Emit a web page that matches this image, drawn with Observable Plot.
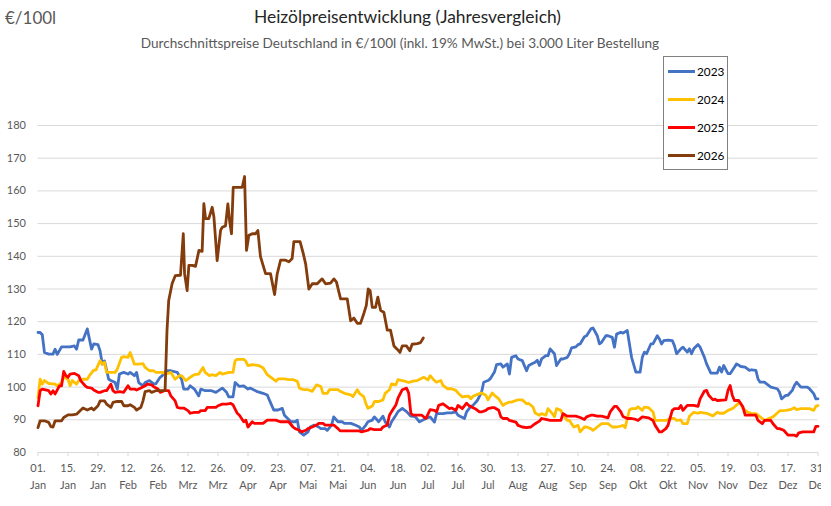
<!DOCTYPE html>
<html><head><meta charset="utf-8">
<script src="https://cdn.jsdelivr.net/npm/d3@7"></script>
<script src="https://cdn.jsdelivr.net/npm/@observablehq/plot@0.6"></script>
<style>
body{margin:0;background:#fff;}
#wrap{position:relative;width:831px;height:506px;font-family:Lato,"Open Sans",sans-serif;overflow:hidden;background:#fff}
#unit{position:absolute;left:5px;top:7px;font-size:17px;color:#595959;white-space:nowrap;font-weight:400}
#title{position:absolute;left:407.5px;top:6px;transform:translateX(-50%);font-size:17.4px;color:#262626;white-space:nowrap;font-weight:400}
#subtitle{position:absolute;left:400px;top:35px;transform:translateX(-50%);font-size:13.6px;color:#595959;white-space:nowrap;font-weight:400}
#chart{position:absolute;left:0;top:0;width:831px;height:506px;clip-path:inset(0 10px 0 0)}
#chart svg{max-width:none !important;width:831px;height:506px}
#legend{position:absolute;left:663px;top:56px;width:65px;height:114px;border:1px solid #808080;background:#fff;box-sizing:border-box;padding-top:0}
.item{display:flex;align-items:center;height:28.2px;font-size:11.8px;color:#000}
.sw{width:27px;height:3px;margin-left:4px;margin-right:2px}
</style></head>
<body>
<div id="wrap">
  <div id="chart"></div>
  <div id="unit"></div>
  <div id="title"></div>
  <div id="subtitle"></div>
  <div id="legend"></div>
</div>
<script>
const unitLabel = "€/100l";
const titleText = "Heizölpreisentwicklung (Jahresvergleich)";
const subtitleText = "Durchschnittspreise Deutschland in €/100l (inkl. 19% MwSt.) bei 3.000 Liter Bestellung";

const years = ["2023", "2024", "2025", "2026"];
const colors = ["#4472C4", "#FFC000", "#FF0000", "#843C0C"];

const yTicks = [80, 90, 100, 110, 120, 130, 140, 150, 160, 170, 180];
const xTickDays = [0,14,28,42,56,70,84,98,112,126,140,154,168,182,196,210,224,238,252,266,280,294,308,322,336,350,364];
const xTickLabels = ["01.\nJan","15.\nJan","29.\nJan","12.\nFeb","26.\nFeb","12.\nMrz","26.\nMrz","09.\nApr","23.\nApr","07.\nMai","21.\nMai","04.\nJun","18.\nJun","02.\nJul","16.\nJul","30.\nJul","13.\nAug","27.\nAug","10.\nSep","24.\nSep","08.\nOkt","22.\nOkt","05.\nNov","19.\nNov","03.\nDez","17.\nDez","31.\nDez"];

// [day of year (0 = 01. Jan), price €/100l]
const s2023 = [[0,116.7],[1,116.7],[2,116.0],[3,110.6],[5,110.1],[7,110.1],[8,111.6],[9,110.0],[11,112.3],[15,112.3],[17,112.6],[18,111.6],[19,114.4],[21,114.4],[23,117.8],[25,111.6],[26,113.2],[28,113.0],[29,111.0],[30,107.0],[31,108.0],[33,102.4],[34,102.0],[36,101.4],[37,99.4],[38,104.0],[40,104.5],[42,104.0],[43,104.5],[45,103.5],[46,104.5],[47,101.4],[49,100.4],[50,101.4],[52,102.0],[54,101.0],[55,101.0],[57,103.0],[58,103.5],[60,105.0],[62,105.0],[65,104.5],[67,102.4],[68,99.4],[70,99.4],[71,100.4],[73,99.4],[75,97.3],[76,99.4],[78,98.9],[81,98.9],[83,98.4],[86,99.7],[88,98.4],[89,97.0],[91,97.0],[92,101.4],[94,100.2],[96,100.4],[98,99.4],[99,99.7],[102,98.7],[105,98.1],[107,97.6],[108,96.0],[110,93.0],[112,93.0],[114,93.5],[115,91.4],[118,89.4],[120,89.4],[121,89.9],[122,86.3],[124,85.3],[126,86.3],[127,87.8],[129,88.4],[131,87.8],[132,87.3],[134,87.3],[135,86.8],[137,88.4],[138,90.9],[140,89.4],[142,89.4],[143,88.9],[146,88.9],[148,88.4],[150,87.8],[151,86.8],[153,88.4],[154,89.4],[156,89.9],[157,90.9],[159,89.4],[161,91.1],[162,89.4],[164,87.8],[165,89.4],[167,91.4],[168,92.5],[170,93.5],[172,92.5],[174,91.1],[176,91.0],[178,89.4],[181,90.4],[183,90.9],[185,89.3],[186,91.9],[189,91.9],[191,92.1],[193,92.1],[195,92.4],[196,91.4],[199,90.4],[200,92.4],[202,94.1],[203,94.4],[205,95.9],[207,98.5],[208,101.5],[210,102.0],[211,102.5],[213,104.6],[214,106.9],[216,107.1],[217,106.1],[219,107.1],[220,104.0],[221,109.1],[223,109.6],[224,108.6],[226,108.1],[228,105.0],[229,106.6],[231,107.3],[232,107.6],[233,108.2],[234,106.6],[235,108.6],[237,109.6],[238,109.6],[239,111.7],[241,110.2],[242,106.6],[244,108.6],[245,108.6],[247,109.1],[248,110.2],[249,112.0],[251,112.3],[252,113.0],[253,113.2],[255,115.4],[256,115.7],[258,117.8],[259,118.1],[261,115.7],[262,113.2],[263,113.7],[265,115.7],[266,115.7],[268,115.2],[269,112.2],[270,116.2],[272,116.8],[273,116.5],[275,117.3],[276,113.2],[277,109.1],[279,104.6],[281,104.6],[282,109.1],[283,110.7],[284,110.2],[286,113.2],[287,113.2],[289,115.7],[290,114.7],[291,113.2],[292,114.2],[294,114.4],[296,114.2],[297,112.7],[298,110.2],[300,111.7],[301,112.2],[303,110.7],[304,111.7],[305,110.2],[306,111.7],[308,113.0],[309,112.2],[311,109.1],[312,107.1],[314,104.3],[317,104.3],[318,106.1],[319,104.6],[320,106.6],[322,104.1],[323,104.1],[325,106.1],[326,107.1],[328,106.3],[330,106.1],[332,105.1],[333,105.3],[335,105.1],[336,102.5],[337,101.5],[339,101.5],[340,101.0],[342,100.0],[345,99.5],[346,98.5],[347,96.4],[349,97.5],[350,97.5],[352,99.0],[353,100.5],[354,101.5],[356,100.0],[359,100.0],[360,99.5],[362,98.0],[363,96.4],[364,96.4]];

const s2024 = [[0,96.8],[1,102.4],[2,100.9],[3,102.0],[5,101.1],[8,100.9],[9,100.4],[11,101.4],[12,103.0],[14,102.4],[15,100.4],[16,102.0],[18,100.9],[19,102.0],[21,102.4],[23,102.4],[24,103.5],[26,105.2],[27,105.2],[29,108.1],[30,107.0],[31,107.6],[32,104.5],[34,104.5],[36,104.5],[37,105.5],[39,109.1],[40,109.3],[42,109.1],[43,110.6],[45,107.0],[47,107.0],[49,107.2],[50,106.0],[52,105.0],[54,105.0],[55,104.5],[58,104.5],[60,104.0],[62,104.5],[64,102.4],[66,103.5],[67,103.5],[69,102.0],[71,103.0],[73,103.8],[75,104.0],[77,106.0],[78,104.5],[80,103.5],[81,103.8],[83,103.5],[85,104.5],[86,104.0],[89,104.5],[91,104.5],[92,108.1],[93,108.5],[96,108.5],[97,107.9],[98,106.6],[100,106.9],[103,106.6],[105,105.9],[107,103.8],[109,102.8],[111,101.8],[112,102.5],[115,102.5],[117,102.3],[119,102.3],[121,101.8],[122,99.7],[124,99.2],[126,99.2],[128,98.7],[129,99.7],[130,100.7],[132,100.2],[133,98.1],[135,98.1],[136,99.2],[140,99.2],[141,98.7],[143,98.1],[146,97.6],[147,97.1],[149,99.2],[150,98.1],[152,97.1],[153,95.0],[154,93.5],[156,94.2],[157,95.6],[159,95.6],[161,96.1],[162,98.1],[164,99.2],[165,101.0],[167,100.7],[168,102.3],[171,101.8],[173,101.4],[175,101.8],[177,102.0],[180,103.0],[182,102.2],[183,103.5],[185,102.0],[186,101.5],[188,102.0],[189,100.5],[191,99.5],[193,99.5],[195,99.0],[196,98.2],[198,97.0],[200,97.2],[201,97.2],[202,96.4],[203,97.2],[206,98.0],[207,98.2],[209,97.5],[210,96.1],[212,98.2],[213,97.5],[215,96.4],[217,94.4],[218,94.9],[220,95.4],[221,95.4],[223,95.9],[224,96.1],[226,96.1],[228,94.9],[229,95.0],[231,93.9],[232,92.1],[234,91.4],[235,91.9],[237,91.4],[238,93.4],[240,91.9],[241,90.9],[242,93.4],[244,92.9],[245,91.4],[247,89.8],[248,89.8],[250,87.8],[252,88.3],[253,86.3],[255,87.8],[256,87.8],[258,87.3],[259,86.8],[261,87.8],[263,88.8],[266,88.8],[268,87.8],[270,87.8],[272,88.1],[273,88.3],[274,87.6],[276,93.0],[277,93.4],[279,93.4],[280,94.0],[282,92.9],[283,93.9],[285,93.7],[287,92.4],[288,89.8],[290,89.8],[293,89.8],[295,90.4],[297,90.4],[298,89.8],[300,90.0],[301,88.8],[303,88.8],[304,91.1],[306,92.3],[308,92.0],[309,92.3],[312,92.0],[315,91.2],[317,92.3],[318,92.0],[320,92.0],[322,92.9],[324,93.4],[325,93.9],[327,95.1],[328,94.9],[329,93.4],[331,92.4],[333,91.9],[335,91.9],[336,91.4],[338,90.4],[339,89.8],[341,90.4],[343,90.9],[345,92.1],[346,92.7],[349,92.9],[351,93.1],[353,93.7],[354,93.1],[356,93.4],[358,93.4],[360,93.4],[362,92.9],[363,94.1],[364,94.4]];

const s2025 = [[0,94.3],[1,98.9],[2,99.4],[5,98.9],[6,97.9],[7,98.9],[8,97.9],[10,100.4],[11,100.4],[12,104.8],[13,103.5],[14,103.0],[15,104.0],[17,104.2],[19,103.5],[20,101.9],[22,100.4],[23,99.9],[25,99.7],[26,99.1],[28,98.4],[29,98.4],[31,98.9],[32,98.9],[34,100.9],[35,98.9],[36,98.4],[38,98.6],[40,98.4],[41,99.4],[42,100.4],[43,99.4],[45,99.4],[46,99.1],[48,99.7],[50,100.4],[51,100.9],[53,100.7],[54,100.1],[56,99.4],[57,98.4],[59,98.9],[61,98.9],[62,97.3],[64,95.8],[65,93.8],[66,93.6],[68,93.6],[70,92.8],[71,92.0],[73,92.3],[75,92.3],[76,92.8],[78,92.8],[79,93.8],[81,93.8],[83,93.8],[84,94.3],[86,94.8],[88,94.8],[90,95.0],[91,94.6],[93,92.0],[94,91.4],[96,89.4],[97,89.9],[98,87.8],[100,89.4],[101,88.9],[105,88.9],[107,89.9],[111,89.9],[113,89.4],[117,89.4],[119,87.8],[120,87.3],[122,86.8],[123,86.3],[125,86.8],[126,87.3],[128,87.8],[130,88.4],[131,88.9],[133,88.9],[134,88.4],[138,88.4],[140,87.3],[141,86.6],[150,86.6],[151,86.3],[154,86.8],[155,87.3],[157,87.0],[160,87.0],[161,87.8],[163,88.4],[164,91.4],[165,92.5],[167,94.5],[168,96.6],[170,99.2],[172,99.7],[173,98.1],[174,92.0],[175,91.4],[179,91.4],[181,90.4],[183,93.1],[185,92.9],[186,92.4],[187,94.4],[189,94.9],[190,94.4],[192,93.4],[193,93.6],[195,92.9],[196,94.4],[198,93.4],[200,95.1],[201,94.4],[203,93.7],[204,93.4],[206,92.4],[207,92.4],[209,92.9],[210,93.4],[212,93.7],[213,93.7],[215,92.9],[216,90.9],[217,90.4],[219,90.4],[220,89.8],[223,89.3],[224,88.3],[226,87.8],[228,87.6],[230,87.8],[232,88.8],[234,89.6],[235,90.4],[237,90.1],[239,89.8],[244,89.8],[245,91.9],[247,91.1],[251,91.1],[253,90.7],[255,90.1],[256,90.9],[258,91.4],[259,91.4],[261,91.1],[263,91.1],[266,90.6],[267,92.4],[269,94.1],[270,94.1],[272,92.4],[273,91.0],[275,90.4],[277,90.4],[279,90.1],[280,89.8],[282,90.9],[285,90.6],[287,89.8],[288,88.3],[290,86.3],[291,86.3],[293,87.3],[294,88.3],[296,92.9],[297,93.4],[299,93.4],[300,94.4],[301,92.9],[303,94.4],[306,94.4],[308,94.1],[309,96.4],[311,98.8],[312,99.0],[313,97.5],[315,96.1],[316,96.3],[317,95.9],[321,96.1],[322,99.0],[323,100.5],[324,97.5],[325,95.9],[327,95.9],[329,93.9],[330,91.4],[335,91.4],[336,89.8],[338,88.8],[339,89.8],[342,89.8],[343,88.8],[345,87.3],[346,87.3],[348,86.8],[350,85.3],[353,85.3],[354,85.0],[355,86.0],[357,86.3],[362,86.3],[363,88.0],[364,88.0]];

const s2026 = [[0,87.6],[1,89.7],[3,89.7],[5,89.2],[6,87.9],[7,87.8],[8,89.7],[11,89.7],[12,90.7],[14,91.5],[16,91.5],[18,91.7],[20,93.0],[21,93.6],[23,93.0],[25,93.6],[26,93.0],[28,94.3],[29,95.8],[31,95.8],[32,94.8],[34,93.8],[35,95.3],[37,95.6],[39,95.6],[40,94.3],[42,94.3],[43,94.6],[45,93.8],[46,93.0],[48,93.8],[49,95.8],[50,98.6],[52,98.9],[53,98.4],[55,98.9],[59.3,98.9],[60.2,117.3],[61,126.5],[62.6,131.7],[64.1,134.1],[66.5,134.2],[67.8,146.9],[68.4,134.7],[69.6,129.5],[70.4,137.2],[72,137.2],[73.5,136.9],[75.1,141.8],[76.6,141.5],[77.4,156.1],[78.2,151.5],[79.7,151.5],[81.3,155.0],[82.1,152.0],[83.6,138.7],[85.2,147.9],[86,148.9],[87.5,149.3],[88.6,156.0],[89.4,150.9],[90.3,146.9],[91.1,161.1],[95.3,161.1],[96.4,164.4],[97.3,141.8],[98.4,146.4],[100,146.9],[101.5,146.9],[102.6,147.9],[103.8,140.0],[104.9,137.5],[106.2,134.7],[108.5,134.7],[110.4,128.3],[111.6,134.5],[113.2,138.8],[115.5,138.8],[117.1,138.3],[118.6,139.3],[119.4,144.5],[122.3,144.5],[123.8,140.8],[124.9,137.7],[126.4,130.0],[128,131.6],[130.3,131.6],[132.6,133.1],[134.2,131.6],[136.5,131.8],[138.1,133.1],[139.3,132.1],[141.2,127.0],[144.3,127.0],[145.9,120.3],[147.4,121.1],[149,119.5],[150.5,119.5],[152.1,122.6],[153.2,124.9],[154.1,130.0],[155,129.5],[156,124.4],[157.5,124.4],[158.6,127.5],[159.9,123.4],[161.4,122.9],[163,117.4],[164.5,117.4],[166.1,112.6],[167.6,111.6],[168.9,110.6],[170,112.6],[172,112.6],[173.5,111.1],[174.6,113.1],[177,113.3],[178.5,113.6],[179.8,115.0]];

const seriesList = [s2023, s2024, s2025, s2026];

document.getElementById("unit").textContent = unitLabel;
document.getElementById("title").textContent = titleText;
document.getElementById("subtitle").textContent = subtitleText;

const leg = document.getElementById("legend");
years.forEach((y, i) => {
  const it = document.createElement("div"); it.className = "item";
  const sw = document.createElement("span"); sw.className = "sw"; sw.style.background = colors[i];
  const tx = document.createElement("span"); tx.textContent = y;
  it.appendChild(sw); it.appendChild(tx); leg.appendChild(it);
});

const lineMarks = seriesList.map((s, i) =>
  Plot.line(s.map(([d, v]) => ({day: d, value: v})), {
    x: "day", y: "value", stroke: colors[i], strokeWidth: 2.8,
    strokeLinejoin: "round", strokeLinecap: "round"
  })
);

const chart = Plot.plot({
  width: 831, height: 506,
  marginLeft: 37.5, marginRight: 13.5, marginTop: 125, marginBottom: 54,
  style: {fontFamily: "Lato, 'Open Sans', sans-serif", fontSize: "11px", color: "#595959", background: "transparent", overflow: "visible", maxWidth: "none"},
  x: {domain: [0, 364]},
  y: {domain: [80, 180]},
  marks: [
    Plot.gridY(yTicks.filter(v => v > 80), {stroke: "#d9d9d9", strokeOpacity: 1, strokeWidth: 1}),
    Plot.ruleY([80], {stroke: "#d9d9d9", strokeWidth: 1}),
    Plot.axisY({ticks: yTicks, tickSize: 0, tickPadding: 12, label: null, fill: "#595959", fontSize: 11}),
    Plot.axisX({ticks: xTickDays, tickFormat: (d) => xTickLabels[xTickDays.indexOf(d)], tickSize: 4, tickPadding: 4,
      stroke: "#d9d9d9", strokeOpacity: 1, fill: "#595959", fontSize: 11, lineHeight: 1.5, label: null}),
    ...lineMarks
  ]
});
document.getElementById("chart").appendChild(chart);
</script>
</body></html>
